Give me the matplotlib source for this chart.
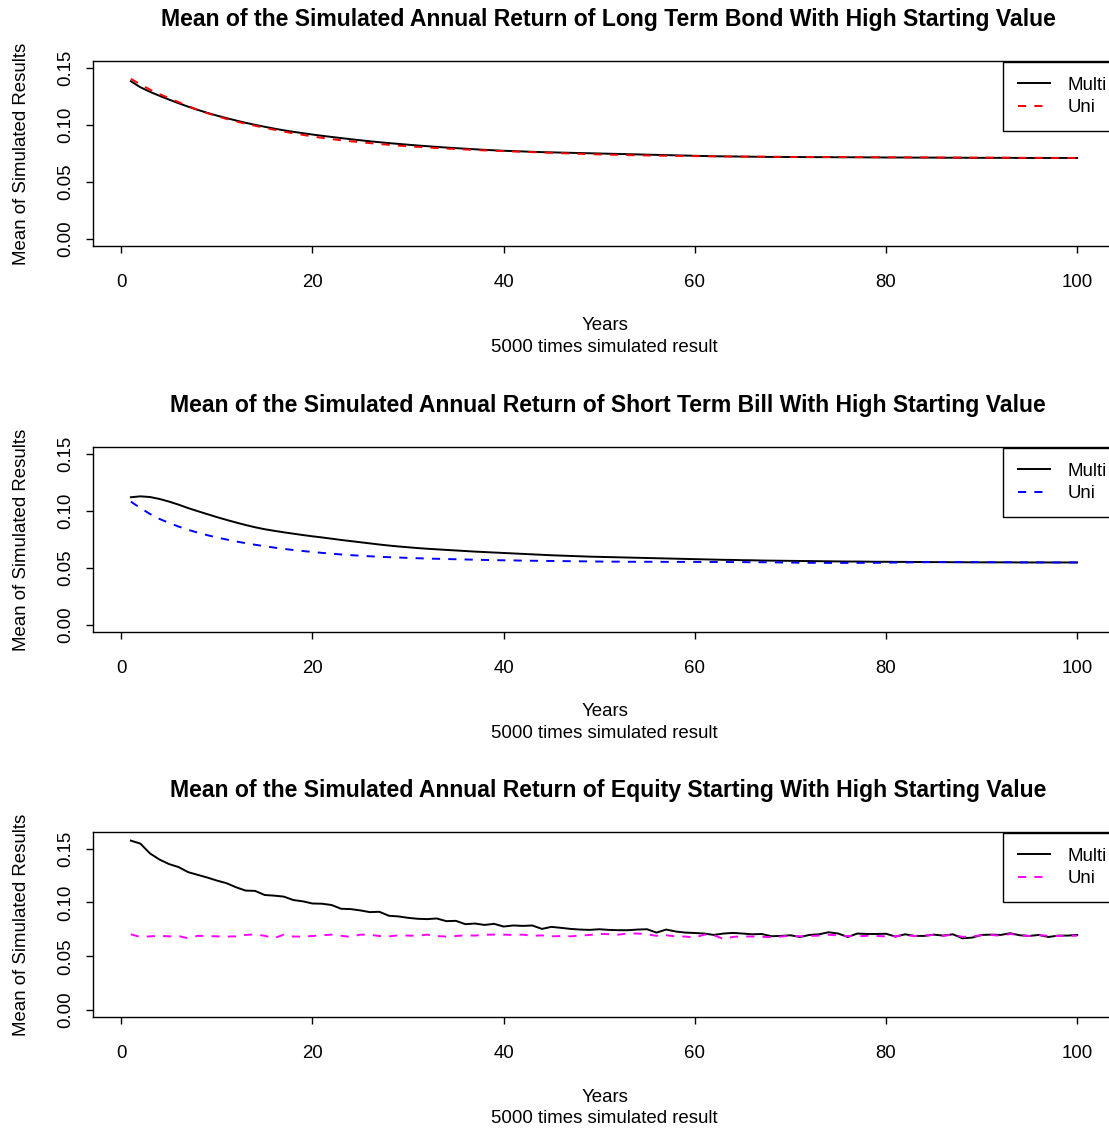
import numpy as np
import matplotlib
matplotlib.use("Agg")
from matplotlib import pyplot as plt
from matplotlib.transforms import offset_copy

years = np.arange(1, 101)

# long term bond
bond_multi = [
    0.1383, 0.1330, 0.1290, 0.1255, 0.1222, 0.1190, 0.1160, 0.1132, 0.1106, 0.1082,
    0.1060, 0.1039, 0.1019, 0.1001, 0.0984, 0.0968, 0.0953, 0.0940, 0.0928, 0.0916,
    0.0905, 0.0895, 0.0885, 0.0875, 0.0866, 0.0857, 0.0849, 0.0841, 0.0834, 0.0827,
    0.0820, 0.0814, 0.0808, 0.0802, 0.0797, 0.0792, 0.0787, 0.0782, 0.0778, 0.0774,
    0.0771, 0.0768, 0.0765, 0.0762, 0.0760, 0.0758, 0.0756, 0.0754, 0.0752, 0.0750,
    0.0748, 0.0746, 0.0744, 0.0742, 0.0740, 0.0738, 0.0736, 0.0734, 0.0732, 0.0730,
    0.0728, 0.0726, 0.0725, 0.0724, 0.0723, 0.0722, 0.0721, 0.0720, 0.0720, 0.0719,
    0.0719, 0.0718, 0.0718, 0.0718, 0.0717, 0.0717, 0.0717, 0.0716, 0.0716, 0.0715,
    0.0715, 0.0715, 0.0714, 0.0714, 0.0714, 0.0713, 0.0713, 0.0713, 0.0712, 0.0712,
    0.0712, 0.0712, 0.0712, 0.0711, 0.0711, 0.0711, 0.0711, 0.0711, 0.0711, 0.0711,
]
bond_uni = [
    0.1404, 0.1355, 0.1310, 0.1270, 0.1235, 0.1200, 0.1165, 0.1132, 0.1103, 0.1077,
    0.1053, 0.1031, 0.1011, 0.0993, 0.0975, 0.0958, 0.0942, 0.0927, 0.0913, 0.0899,
    0.0887, 0.0876, 0.0866, 0.0857, 0.0849, 0.0841, 0.0833, 0.0826, 0.0819, 0.0813,
    0.0808, 0.0803, 0.0798, 0.0793, 0.0789, 0.0785, 0.0781, 0.0777, 0.0774, 0.0771,
    0.0768, 0.0765, 0.0762, 0.0759, 0.0756, 0.0753, 0.0750, 0.0747, 0.0744, 0.0742,
    0.0740, 0.0738, 0.0736, 0.0734, 0.0733, 0.0731, 0.0730, 0.0729, 0.0728, 0.0727,
    0.0726, 0.0725, 0.0724, 0.0723, 0.0723, 0.0722, 0.0722, 0.0721, 0.0721, 0.0720,
    0.0720, 0.0720, 0.0719, 0.0719, 0.0719, 0.0718, 0.0718, 0.0718, 0.0717, 0.0717,
    0.0717, 0.0716, 0.0716, 0.0716, 0.0715, 0.0715, 0.0715, 0.0714, 0.0714, 0.0714,
    0.0713, 0.0713, 0.0713, 0.0712, 0.0712, 0.0712, 0.0712, 0.0711, 0.0711, 0.0711,
]

# short term bill
bill_multi = [
    0.1120, 0.1128, 0.1122, 0.1105, 0.1082, 0.1055, 0.1025, 0.0998, 0.0972, 0.0946,
    0.0922, 0.0899, 0.0877, 0.0857, 0.0840, 0.0826, 0.0813, 0.0801, 0.0789, 0.0778,
    0.0768, 0.0757, 0.0746, 0.0736, 0.0726, 0.0716, 0.0706, 0.0697, 0.0689, 0.0682,
    0.0675, 0.0669, 0.0664, 0.0659, 0.0654, 0.0649, 0.0644, 0.0640, 0.0636, 0.0632,
    0.0628, 0.0624, 0.0620, 0.0616, 0.0612, 0.0609, 0.0606, 0.0603, 0.0600, 0.0598,
    0.0596, 0.0594, 0.0592, 0.0590, 0.0588, 0.0586, 0.0584, 0.0582, 0.0580, 0.0578,
    0.0576, 0.0574, 0.0572, 0.0571, 0.0569, 0.0568, 0.0566, 0.0565, 0.0564, 0.0563,
    0.0562, 0.0561, 0.0560, 0.0559, 0.0558, 0.0557, 0.0557, 0.0556, 0.0555, 0.0555,
    0.0554, 0.0554, 0.0553, 0.0553, 0.0552, 0.0552, 0.0551, 0.0551, 0.0550, 0.0550,
    0.0550, 0.0550, 0.0550, 0.0549, 0.0549, 0.0549, 0.0549, 0.0549, 0.0549, 0.0549,
]
bill_uni = [
    0.1082, 0.1025, 0.0974, 0.0930, 0.0895, 0.0863, 0.0835, 0.0810, 0.0788, 0.0768,
    0.0750, 0.0733, 0.0718, 0.0704, 0.0691, 0.0679, 0.0668, 0.0658, 0.0649, 0.0641,
    0.0633, 0.0626, 0.0619, 0.0613, 0.0608, 0.0603, 0.0599, 0.0595, 0.0592, 0.0589,
    0.0586, 0.0583, 0.0581, 0.0579, 0.0577, 0.0575, 0.0573, 0.0571, 0.0569, 0.0568,
    0.0567, 0.0565, 0.0564, 0.0563, 0.0562, 0.0561, 0.0560, 0.0559, 0.0558, 0.0557,
    0.0556, 0.0556, 0.0555, 0.0555, 0.0555, 0.0555, 0.0554, 0.0554, 0.0554, 0.0554,
    0.0553, 0.0553, 0.0553, 0.0552, 0.0552, 0.0551, 0.0551, 0.0550, 0.0549, 0.0548,
    0.0547, 0.0546, 0.0546, 0.0545, 0.0545, 0.0545, 0.0545, 0.0546, 0.0546, 0.0547,
    0.0548, 0.0549, 0.0550, 0.0551, 0.0552, 0.0552, 0.0552, 0.0552, 0.0552, 0.0552,
    0.0551, 0.0551, 0.0551, 0.0550, 0.0550, 0.0550, 0.0549, 0.0549, 0.0549, 0.0549,
]

# equity
equity_multi = [
    0.1574, 0.1546, 0.1455, 0.1398, 0.1356, 0.1328, 0.1281, 0.1256, 0.1231, 0.1203,
    0.1179, 0.1141, 0.1110, 0.1107, 0.1069, 0.1063, 0.1054, 0.1022, 0.1010, 0.0990,
    0.0988, 0.0976, 0.0941, 0.0938, 0.0926, 0.0910, 0.0913, 0.0876, 0.0870, 0.0857,
    0.0848, 0.0845, 0.0851, 0.0826, 0.0829, 0.0798, 0.0804, 0.0791, 0.0801, 0.0776,
    0.0786, 0.0782, 0.0786, 0.0754, 0.0773, 0.0764, 0.0754, 0.0748, 0.0745, 0.0751,
    0.0745, 0.0742, 0.0742, 0.0748, 0.0751, 0.0720, 0.0748, 0.0730, 0.0720, 0.0716,
    0.0711, 0.0698, 0.0711, 0.0717, 0.0711, 0.0704, 0.0707, 0.0686, 0.0689, 0.0695,
    0.0679, 0.0698, 0.0704, 0.0723, 0.0711, 0.0679, 0.0711, 0.0707, 0.0707, 0.0709,
    0.0683, 0.0704, 0.0689, 0.0689, 0.0701, 0.0692, 0.0704, 0.0667, 0.0673, 0.0698,
    0.0701, 0.0698, 0.0714, 0.0695, 0.0689, 0.0698, 0.0679, 0.0692, 0.0692, 0.0698,
]
equity_uni = [
    0.0704, 0.0679, 0.0685, 0.0690, 0.0685, 0.0688, 0.0667, 0.0690, 0.0688, 0.0685,
    0.0683, 0.0685, 0.0698, 0.0704, 0.0690, 0.0668, 0.0701, 0.0683, 0.0683, 0.0688,
    0.0695, 0.0701, 0.0690, 0.0680, 0.0701, 0.0700, 0.0688, 0.0685, 0.0694, 0.0692,
    0.0690, 0.0701, 0.0688, 0.0683, 0.0688, 0.0695, 0.0692, 0.0700, 0.0701, 0.0701,
    0.0698, 0.0701, 0.0690, 0.0694, 0.0685, 0.0688, 0.0685, 0.0692, 0.0698, 0.0708,
    0.0705, 0.0701, 0.0711, 0.0711, 0.0704, 0.0690, 0.0695, 0.0685, 0.0683, 0.0674,
    0.0701, 0.0695, 0.0660, 0.0680, 0.0685, 0.0683, 0.0680, 0.0678, 0.0683, 0.0690,
    0.0685, 0.0688, 0.0692, 0.0700, 0.0693, 0.0688, 0.0685, 0.0690, 0.0688, 0.0685,
    0.0685, 0.0695, 0.0688, 0.0692, 0.0698, 0.0690, 0.0701, 0.0680, 0.0685, 0.0695,
    0.0698, 0.0690, 0.0707, 0.0695, 0.0688, 0.0695, 0.0690, 0.0688, 0.0692, 0.0690,
]

titles = [
    "Mean of the Simulated Annual Return of Long Term Bond With High Starting Value",
    "Mean of the Simulated Annual Return of Short Term Bill With High Starting Value",
    "Mean of the Simulated Annual Return of Equity Starting With High Starting Value",
]
panels = [
    (bond_multi, bond_uni, "red", (-0.006, 0.156)),
    (bill_multi, bill_uni, "blue", (-0.006, 0.156)),
    (equity_multi, equity_uni, "magenta", (-0.0064, 0.1654)),
]

plt.rcParams["font.family"] = ["Liberation Sans", "DejaVu Sans"]
FS = 13.4
W, H = 1109, 1128
fig = plt.figure(figsize=(W / 100, H / 100), dpi=100)

box_tops = [61, 447, 832]
box_left, box_right, box_h = 93, 1115, 185

for top, title, (multi, uni, col, ylim) in zip(box_tops, titles, panels):
    ax = fig.add_axes([box_left / W, 1 - (top + box_h) / H,
                       (box_right - box_left) / W, box_h / H])
    ax.plot(years, multi, color="black", lw=1.4, label="Multi")
    ax.plot(years, uni, color=col, lw=1.4, dashes=(4.2, 4.2), label="Uni")
    ax.set_xlim(-2.96, 103.96)
    ax.set_ylim(*ylim)
    ax.set_xticks([0, 20, 40, 60, 80, 100])
    ax.set_yticks([0.0, 0.05, 0.10, 0.15])
    ax.set_yticklabels(["0.00", "0.05", "0.10", "0.15"], rotation=90, va="center")
    ax.tick_params(axis="both", length=5.2, width=1.0, labelsize=FS, color="black")
    ax.tick_params(axis="x", pad=15.2)
    ax.tick_params(axis="y", pad=8)
    for sp in ax.spines.values():
        sp.set_linewidth(1.0)
    ax.annotate(title, xy=(0.5, 1), xycoords="axes fraction", xytext=(3, 29.6),
                textcoords="offset points", ha="center", va="center",
                fontsize=16.6, fontweight="bold")
    ax.annotate("Years", xy=(0.5, 0), xycoords="axes fraction", xytext=(0.5, -57.6),
                textcoords="offset points", ha="center", va="center", fontsize=FS)
    ax.annotate("5000 times simulated result", xy=(0.5, 0), xycoords="axes fraction",
                xytext=(0.5, -72.8), textcoords="offset points", ha="center",
                va="center", fontsize=FS)
    ax.annotate("Mean of Simulated Results", xy=(0, 0.5), xycoords="axes fraction",
                xytext=(-51.8, 0), textcoords="offset points", ha="center",
                va="center", rotation=90, fontsize=FS)
    # legend sits in the top right corner; its right edge runs past the figure
    anchor = offset_copy(ax.transAxes, fig=fig, x=7, y=-1, units="dots")
    leg = ax.legend(loc="upper right", bbox_to_anchor=(1, 1),
                    bbox_transform=anchor, borderaxespad=0, fancybox=False,
                    edgecolor="black", framealpha=1, fontsize=FS,
                    handlelength=1.75, handletextpad=0.95, borderpad=0.8,
                    labelspacing=0.28)
    leg.get_frame().set_linewidth(1.0)

plt.savefig("out.png", dpi=100)
